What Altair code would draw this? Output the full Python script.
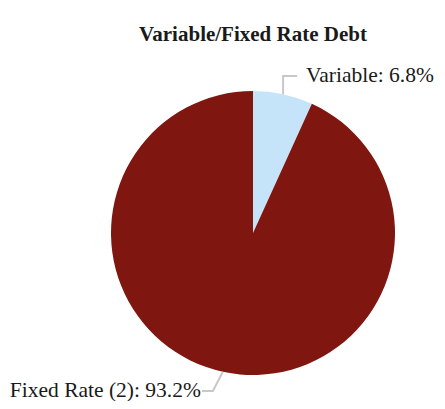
import math
import altair as alt
import pandas as pd

categories = ["Variable", "Fixed Rate (2)"]
shares = [6.8, 93.2]
colors = ["#c5e4f9", "#7f160f"]
title_text = ["Variable/Fixed Rate Debt"]

# geometry (pixels in plot coordinates)
CX, CY, R = 245, 225, 142
label_y = [68, 383]

total = sum(shares)
cum = 0.0
mids = []
for s in shares:
    mids.append((cum + s / 2) / total * 2 * math.pi)
    cum += s

arc_df = pd.DataFrame({"category": categories, "share": shares, "order": [0, 1]})

line_rows = []
text_rows = []
for i, (cat, s, a) in enumerate(zip(categories, shares, mids)):
    ex = CX + R * math.sin(a)
    ey = CY - R * math.cos(a)
    ly = label_y[i]
    if math.sin(a) >= 0:
        pts = [(ex, ey), (ex, ly), (ex + 14, ly)]
        tx, align = ex + 23, "left"
    else:
        pts = [(ex, ey), (ex - 10, ly), (ex - 21, ly)]
        tx, align = ex - 22, "right"
    for k, (px, py) in enumerate(pts):
        line_rows.append({"category": cat, "step": k, "px": px, "py": py})
    text_rows.append({"category": cat, "label": f"{cat}: {s}%", "tx": tx, "ty": ly, "align": align})

line_df = pd.DataFrame(line_rows)
text_df = pd.DataFrame(text_rows)
title_df = pd.DataFrame({"t": title_text, "tx": [CX], "ty": [33]})

arc = alt.Chart(arc_df).mark_arc(outerRadius=R).encode(
    theta=alt.Theta("share:Q", stack=True),
    color=alt.Color("category:N", scale=alt.Scale(domain=categories, range=colors), legend=None),
    order=alt.Order("order:Q"),
    x=alt.value(CX),
    y=alt.value(CY),
)

leaders = alt.Chart(line_df).mark_line(color="#c8c8c8", strokeWidth=2).encode(
    x=alt.X("px:Q", scale=None, axis=None),
    y=alt.Y("py:Q", scale=None, axis=None),
    detail="category:N",
    order="step:Q",
)

def label_layer(al):
    return alt.Chart(text_df).transform_filter(alt.datum.align == al).mark_text(
        font="Liberation Serif", fontSize=21.5, color="#1a1a1a", align=al, baseline="middle"
    ).encode(
        x=alt.X("tx:Q", scale=None, axis=None),
        y=alt.Y("ty:Q", scale=None, axis=None),
        text="label:N",
    )

title = alt.Chart(title_df).mark_text(
    font="Liberation Serif", fontSize=21, fontWeight="bold", color="#1a1a1a",
    align="center", baseline="alphabetic",
).encode(
    x=alt.X("tx:Q", scale=None, axis=None),
    y=alt.Y("ty:Q", scale=None, axis=None),
    text="t:N",
)

chart = alt.layer(arc, leaders, label_layer("left"), label_layer("right"), title).properties(
    width=429,
    height=393,
    autosize="none",
    padding=0,
).configure_view(stroke=None)

chart.save("out.html", embed_options={"renderer": "svg", "actions": False})
